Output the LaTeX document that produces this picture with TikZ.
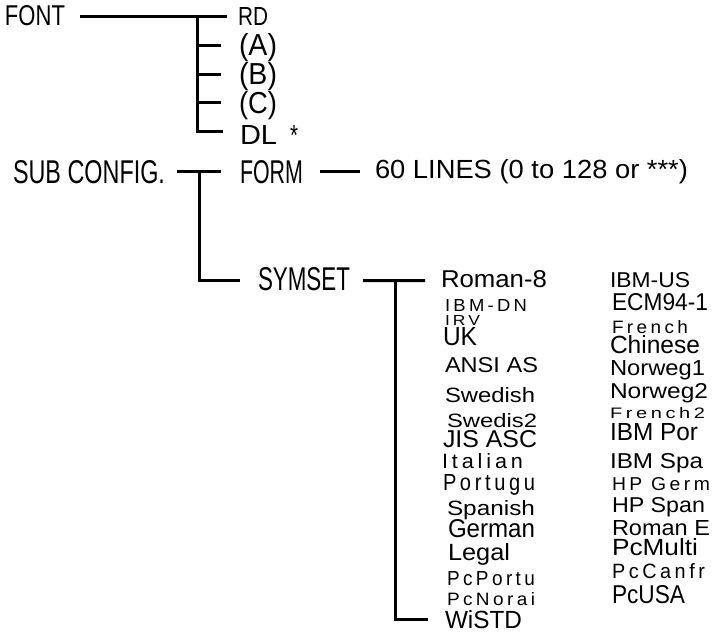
\documentclass[tikz,border=0pt]{standalone}
\usepackage{fontspec}
\setmainfont{Liberation Sans}
\usepackage{graphicx}
\newcommand\fitbox[3]{\resizebox{#1pt}{#2pt}{#3}}
\newcommand\spc[1]{{\addfontfeature{LetterSpace=18}#1}}
\begin{document}
\begin{tikzpicture}[x=1pt,y=-1pt,
  lbl/.style={anchor=base west,inner sep=0pt,outer sep=0pt,font=\fontsize{20}{24}\selectfont},
  conn/.style={line width=3pt}]
\useasboundingbox (0,0) rectangle (714,632);
% top branch
\node[lbl] (font) at (5,25) {\fitbox{60}{20}{FONT}};
\node[lbl] (rd) at (238,25) {\fitbox{30}{18}{RD}};
\node[lbl] (a) at (239,55) {\fitbox{38}{22}{(A)}};
\node[lbl] (b) at (239,84) {\fitbox{38}{22}{(B)}};
\node[lbl] (c) at (239,113) {\fitbox{38}{22}{(C)}};
\node[lbl] (dl) at (240,144) {\fitbox{37}{19}{DL}};
\node[lbl] (star) at (290,145) {\fitbox{8}{20}{*}};
\node[lbl] (sub) at (13,183) {\fitbox{152}{23}{SUB CONFIG.}};
\node[lbl] (form) at (240,183) {\fitbox{63}{23}{FORM}};
\node[lbl] (lines) at (375,178) {\fitbox{313}{19}{60 LINES (0 to 128 or ***)}};
\node[lbl] (symset) at (258,290) {\fitbox{92}{23}{SYMSET}};
% left column
\node[lbl] (roman8) at (441,287) {\fitbox{106}{17}{Roman-8}};
\node[lbl] (ibmdn) at (445,311) {\fitbox{82}{12}{\spc{IBM-DN}}};
\node[lbl] (irv) at (445,325) {\fitbox{35}{10}{\spc{IRV}}};
\node[lbl] (uk) at (443,345) {\fitbox{34}{18}{UK}};
\node[lbl] (ansi) at (445,372) {\fitbox{93}{15}{ANSI AS}};
\node[lbl] (swedish) at (445,402) {\fitbox{90}{15}{Swedish}};
\node[lbl] (swedis2) at (447,427) {\fitbox{90}{14}{Swedis2}};
\node[lbl] (jis) at (443,447) {\fitbox{94}{17}{JIS ASC}};
\node[lbl] (italian) at (442,468) {\fitbox{81}{15}{\spc{Italian}}};
\node[lbl] (portugu) at (443,490) {\fitbox{92}{16}{\spc{Portugu}}};
\node[lbl] (spanish) at (447,515) {\fitbox{88}{15}{Spanish}};
\node[lbl] (german) at (448,537) {\fitbox{87}{18}{German}};
\node[lbl] (legal) at (448,560) {\fitbox{62}{17}{Legal}};
\node[lbl] (pcportu) at (447,585) {\fitbox{88}{14}{\spc{PcPortu}}};
\node[lbl] (pcnorai) at (447,605) {\fitbox{88}{13}{\spc{PcNorai}}};
\node[lbl] (wistd) at (445,628) {\fitbox{77}{18}{WiSTD}};
% right column
\node[lbl] (ibmus) at (610,287) {\fitbox{80}{15}{IBM-US}};
\node[lbl] (ecm) at (612,310) {\fitbox{96}{17}{ECM94-1}};
\node[lbl] (french) at (612,333) {\fitbox{76}{13}{\spc{French}}};
\node[lbl] (chinese) at (610,353) {\fitbox{90}{18}{Chinese}};
\node[lbl] (norweg1) at (610,375) {\fitbox{95}{15}{Norweg1}};
\node[lbl] (norweg2) at (610,398) {\fitbox{98}{15}{Norweg2}};
\node[lbl] (french2) at (610,418) {\fitbox{95}{11}{\spc{French2}}};
\node[lbl] (ibmpor) at (610,440) {\fitbox{88}{17}{IBM Por}};
\node[lbl] (ibmspa) at (610,468) {\fitbox{93}{15}{IBM Spa}};
\node[lbl] (hpgerm) at (612,490) {\fitbox{98}{13}{\spc{HP Germ}}};
\node[lbl] (hpspan) at (612,512) {\fitbox{93}{15}{HP Span}};
\node[lbl] (romane) at (612,535) {\fitbox{98}{15}{Roman E}};
\node[lbl] (pcmulti) at (612,555) {\fitbox{86}{17}{PcMulti}};
\node[lbl] (pccanfr) at (612,578) {\fitbox{93}{15}{\spc{PcCanfr}}};
\node[lbl] (pcusa) at (612,603) {\fitbox{73}{18}{PcUSA}};
% connector anchors
\path ([yshift=3]dl.west) coordinate (dlw)
      ([yshift=2]a.west) coordinate (aw)
      ([yshift=2]b.west) coordinate (bw)
      ([yshift=3]c.west) coordinate (cw)
      ([yshift=-2]symset.west) coordinate (symw)
      ([yshift=-2]symset.east) coordinate (syme)
      ([yshift=-2]roman8.west) coordinate (r8w);
\coordinate (fv) at (197,14.5);
\coordinate (sv) at (199,171.5);
\coordinate (yv) at (395,279.5);
% connectors
\draw[conn] ([xshift=15]font.east |- rd.west) -- ([xshift=-11]rd.west);
\draw[conn] (fv) -- (fv |- dlw) -- ([xshift=-17]dlw);
\draw[conn] (fv |- aw) -- ([xshift=-18]aw);
\draw[conn] (fv |- bw) -- ([xshift=-18]bw);
\draw[conn] (fv |- cw) -- ([xshift=-18]cw);
\draw[conn] ([xshift=12]sub.east) -- ([xshift=-19]form.west);
\draw[conn] (sv) -- (sv |- symw) -- ([xshift=-18]symw);
\draw[conn] ([xshift=17]form.east) -- ([xshift=-15]lines.west |- form.east);
\draw[conn] ([xshift=13]syme) -- ([xshift=-16]r8w);
\draw[conn] (yv) -- (yv |- wistd.west) -- ([xshift=-17]wistd.west);
\end{tikzpicture}
\end{document}
